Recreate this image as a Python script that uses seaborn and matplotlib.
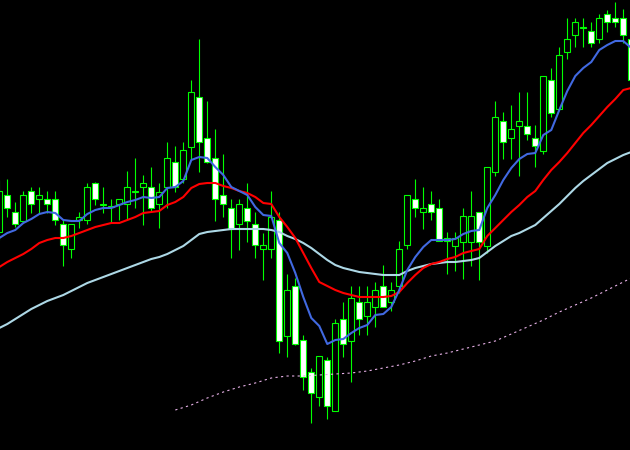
import numpy as np
import pandas as pd
import matplotlib
matplotlib.use('Agg')
import matplotlib.pyplot as plt
import seaborn as sns

# Candles, oldest first (price units)
opens = [218, 255, 238, 229, 259, 251, 251, 251, 226, 201,
         230, 230, 267, 245, 243, 246, 246, 258, 263, 263,
         246, 263, 288, 271, 303, 353, 312, 292, 255, 242,
         226, 242, 226, 201, 201, 230, 114, 164, 110, 78,
         53, 90, 39, 131, 109, 148, 134, 143, 164, 148,
         164, 205, 251, 238, 246, 242, 212, 204, 208, 208,
         238, 204, 278, 329, 312, 324, 324, 312, 299, 370,
         341, 398, 415, 422, 419, 411, 436, 432, 432, 411]
closes = [259, 242, 226, 255, 246, 255, 246, 230, 205, 226,
          233, 263, 251, 246, 244, 251, 263, 259, 267, 242,
          258, 292, 263, 300, 358, 308, 288, 251, 246, 221,
          246, 229, 205, 205, 233, 109, 160, 106, 73, 57,
          94, 44, 127, 106, 152, 131, 148, 160, 143, 160,
          201, 255, 242, 242, 238, 209, 209, 212, 234, 234,
          208, 283, 333, 308, 321, 329, 316, 304, 374, 337,
          395, 411, 428, 423, 407, 432, 428, 428, 415, 370]
highs = [270, 271, 248, 259, 263, 263, 259, 259, 230, 226,
         238, 267, 268, 263, 251, 251, 279, 292, 275, 283,
         267, 308, 304, 308, 370, 411, 349, 321, 296, 251,
         251, 267, 238, 217, 259, 238, 176, 172, 115, 82,
         94, 93, 131, 148, 164, 164, 164, 168, 185, 168,
         209, 255, 271, 263, 259, 251, 218, 218, 242, 259,
         238, 283, 349, 338, 345, 358, 358, 325, 374, 382,
         403, 432, 432, 432, 428, 436, 440, 448, 441, 415]
lows = [210, 233, 223, 227, 237, 237, 237, 225, 184, 192,
        222, 226, 245, 237, 227, 230, 230, 242, 225, 238,
        222, 242, 258, 267, 290, 278, 287, 229, 233, 192,
        200, 208, 192, 170, 192, 97, 93, 105, 60, 27,
        44, 31, 39, 93, 68, 115, 115, 123, 143, 139,
        157, 201, 233, 221, 230, 209, 176, 179, 171, 184,
        170, 197, 274, 291, 291, 274, 310, 283, 296, 333,
        341, 391, 403, 403, 403, 407, 418, 423, 407, 368]

# Moving averages as drawn on the chart
ma_fast = [212, 217, 220, 227, 231, 236, 238, 237, 230, 229,
           229, 236, 240, 242, 242, 245, 248, 250, 253, 252,
           253, 262, 263, 269, 290, 293, 292, 283, 275, 263,
           259, 255, 243, 235, 234, 207, 197, 177, 153, 132,
           124, 106, 110, 111, 117, 122, 125, 135, 136, 143,
           160, 180, 193, 203, 210, 210, 210, 211, 216, 219,
           220, 242, 255, 270, 282, 291, 296, 297, 315, 320,
           340, 359, 374, 382, 388, 400, 405, 409, 409, 402]
ma_mid = [183, 188, 192, 196, 201, 207, 210, 212, 212, 214,
          217, 220, 223, 225, 227, 227, 230, 233, 237, 238,
          239, 245, 248, 253, 262, 266, 267, 267, 264, 262,
          259, 257, 253, 247, 246, 233, 223, 212, 197, 182,
          168, 164, 160, 157, 155, 153, 153, 153, 153, 154,
          158, 167, 175, 182, 186, 188, 191, 193, 197, 199,
          201, 214, 222, 230, 238, 245, 253, 259, 270, 280,
          288, 297, 307, 317, 325, 334, 343, 351, 360, 362]
ma_slow = [122, 126, 131, 136, 141, 145, 149, 152, 155, 159,
           163, 167, 170, 173, 176, 179, 182, 185, 188, 191,
           193, 196, 200, 204, 210, 216, 218, 219, 220, 221,
           221, 221, 221, 221, 220, 218, 214, 211, 207, 202,
           196, 190, 185, 182, 180, 178, 177, 176, 175, 175,
           175, 179, 182, 184, 186, 187, 188, 188, 189, 190,
           192, 198, 204, 209, 214, 217, 221, 225, 232, 239,
           246, 254, 262, 269, 275, 281, 287, 291, 295, 298]
ma_long_bars = [22, 24, 26, 28, 30, 32, 34, 36, 38, 40, 42, 44, 46, 48, 50,
                52, 54, 56, 58, 60, 62, 64, 66, 68, 70, 72, 74, 76, 78, 79]
ma_long = [40, 45, 52, 58, 63, 67, 72, 74, 74, 75, 76, 77, 79, 82, 85,
           89, 94, 97, 101, 105, 109, 116, 123, 130, 138, 145, 152, 160, 168, 172]

df = pd.DataFrame({'open': opens, 'high': highs, 'low': lows, 'close': closes,
                   'ma_fast': ma_fast, 'ma_mid': ma_mid, 'ma_slow': ma_slow})
df['bar'] = np.arange(len(df))
long_df = pd.DataFrame({'bar': ma_long_bars, 'ma_long': ma_long})

sns.set_style('dark', {'axes.facecolor': 'black', 'figure.facecolor': 'black'})

fig = plt.figure(figsize=(6.3, 4.5), dpi=100, facecolor='black')
ax = fig.add_axes([0, 0, 1, 1])
ax.set_facecolor('black')

# wicks
ax.vlines(df['bar'], df['low'], df['high'], color='#00ff00', linewidth=0.8, zorder=1)

# bodies: bull = hollow (black), bear = white
bull = df['close'] >= df['open']
body_bottom = df[['open', 'close']].min(axis=1)
body_height = (df['close'] - df['open']).abs().clip(lower=1)
ax.bar(df['bar'], body_height, bottom=body_bottom, width=0.72,
       color=np.where(bull, 'black', 'white'), edgecolor='#00ff00',
       linewidth=0.8, zorder=2)

# moving averages
sns.lineplot(data=long_df, x='bar', y='ma_long', ax=ax, color='#e6b0e6',
             linewidth=0.8, dashes=False, zorder=3).lines[-1].set_dashes([2, 3])
sns.lineplot(data=df, x='bar', y='ma_slow', ax=ax, color='#add8e6', linewidth=1.5, zorder=3)
sns.lineplot(data=df, x='bar', y='ma_mid', ax=ax, color='#ff0000', linewidth=1.5, zorder=3)
sns.lineplot(data=df, x='bar', y='ma_fast', ax=ax, color='#4169e1', linewidth=1.5, zorder=3)

ax.set_xlim(0.0875, 78.84)
ax.set_ylim(0, 450)
ax.set_axis_off()

fig.savefig('out.png', dpi=100, facecolor='black')
